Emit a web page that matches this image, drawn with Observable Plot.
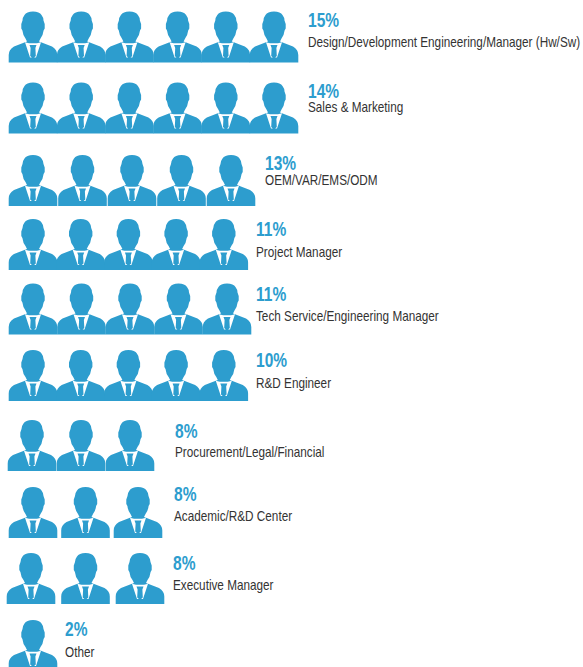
<!DOCTYPE html>
<html>
<head>
<meta charset="utf-8">
<script src="https://cdn.jsdelivr.net/npm/d3@7"></script>
<script src="https://cdn.jsdelivr.net/npm/@observablehq/plot@0.6"></script>
<style>html,body{margin:0;padding:0;background:#fff}svg{display:block}</style>
</head>
<body>
<div id="chart"></div>
<script>
// Data
const categories = ["Design/Development Engineering/Manager (Hw/Sw)","Sales & Marketing","OEM/VAR/EMS/ODM","Project Manager","Tech Service/Engineering Manager","R&D Engineer","Procurement/Legal/Financial","Academic/R&D Center","Executive Manager","Other"];
const shares = [15,14,13,11,11,10,8,8,8,2];
const iconCounts = [6,6,5,5,5,5,3,3,3,1];

// Layout, kept apart from the data
const iconMiddleY = [36.5,107.5,180,244,308.5,375,445,512,578,645];
const iconFirstX = [32.5,32.5,32.5,32.5,32.5,32.5,31.5,32.5,30.5,32.5];
const iconStep = [48.2,48.2,49.5,47.7,48.5,47.7,49,52.5,54.5,0];
const labelX = [307.5,307.5,264.5,255.5,255.5,255.5,174.5,173.5,172.5,64.5];
const shareY = [20,91,163,229,294,360,431,494,563,629];
const labelY = [42,107,180,252,316,383,452,516,585,652];
const blue = "#2d9dce";
const font = "'Liberation Sans',Arial,sans-serif";
const shareCondense = 0.74;
const labelCondense = 0.84;

// A person icon, drawn around its own middle
const person = {
  draw(c, size) {
    const k = Math.sqrt(size / Math.PI) / 25.5;
    const M = (x, y) => c.moveTo(x * k, y * k);
    const L = (x, y) => c.lineTo(x * k, y * k);
    const Q = (a, b, x, y) => c.quadraticCurveTo(a * k, b * k, x * k, y * k);
    // silhouette, clockwise
    M(0, -25.5);
    Q(6.5, -25.5, 8.5, -22);
    Q(10.5, -19.5, 10.5, -16.5);
    L(11.7, -13); L(11.7, -8.5); L(10.6, -6.5);
    Q(10, -1.5, 7.5, 1.5);
    L(6, 4.6); L(8, 5.2);
    L(19, 9.5);
    Q(24.3, 12.5, 24.3, 18);
    L(24.3, 25.5);
    L(-24.3, 25.5);
    L(-24.3, 18);
    Q(-24.3, 12.5, -19, 9.5);
    L(-8, 5.2); L(-6, 4.6); L(-7.5, 1.5);
    Q(-10, -1.5, -10.6, -6.5);
    L(-11.7, -8.5); L(-11.7, -13); L(-10.5, -16.5);
    Q(-10.5, -19.5, -8.5, -22);
    Q(-6.5, -25.5, 0, -25.5);
    c.closePath();
    // shirt opening, counter-clockwise so it stays white
    M(-8, 5.2); L(-3, 20.5); L(3, 20.5); L(8, 5.2); L(4, 6.2); L(-4, 6.2);
    c.closePath();
    // tie, clockwise
    M(-3.5, 8); L(3.5, 8); L(2.4, 11); L(2.8, 19); L(0, 21.5); L(-2.8, 19); L(-2.4, 11);
    c.closePath();
  }
};

const icons = categories.flatMap((category, row) =>
  d3.range(iconCounts[row]).map(i => ({
    category,
    x: iconFirstX[row] + i * iconStep[row],
    y: iconMiddleY[row]
  }))
);
const rows = categories.map((category, row) => ({
  category,
  share: shares[row] + "%",
  x: labelX[row],
  shareY: shareY[row],
  labelY: labelY[row]
}));

const chart = Plot.plot({
  width: 583,
  height: 667,
  margin: 0,
  x: {domain: [0, 583], range: [0, 583], axis: null},
  y: {domain: [0, 667], range: [0, 667], axis: null},
  style: {background: "#fff"},
  marks: [
    Plot.dot(icons, {x: "x", y: "y", r: 25.5, symbol: person, fill: blue, stroke: "none"}),
    Plot.text(rows, {x: "x", y: "shareY", text: "share", textAnchor: "start", fill: blue,
      fontSize: 21, fontWeight: 700, fontFamily: font, className: "share"}),
    Plot.text(rows, {x: "x", y: "labelY", text: "category", textAnchor: "start", fill: "#333",
      fontSize: 14, fontFamily: font, className: "label"})
  ]
});
document.getElementById("chart").appendChild(chart);

// The reference uses a condensed face: narrow the installed one to the same widths
for (const [selector, ratio] of [[".share text", shareCondense], [".label text", labelCondense]]) {
  chart.querySelectorAll(selector).forEach(t => {
    t.setAttribute("transform", `${t.getAttribute("transform") || ""} scale(${ratio},1)`);
  });
}
</script>
</body>
</html>
